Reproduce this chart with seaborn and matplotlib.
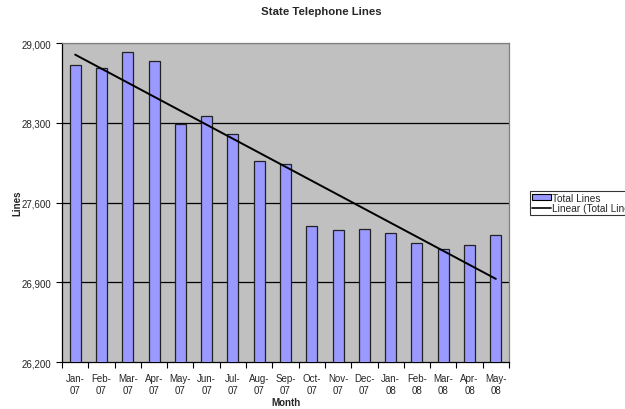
import numpy as np
import pandas as pd
import matplotlib
matplotlib.use("Agg")
import matplotlib.pyplot as plt
import seaborn as sns
from matplotlib.patches import Patch
from matplotlib.lines import Line2D
from matplotlib.ticker import FuncFormatter

months = ["Jan-\n07", "Feb-\n07", "Mar-\n07", "Apr-\n07", "May-\n07", "Jun-\n07",
          "Jul-\n07", "Aug-\n07", "Sep-\n07", "Oct-\n07", "Nov-\n07", "Dec-\n07",
          "Jan-\n08", "Feb-\n08", "Mar-\n08", "Apr-\n08", "May-\n08"]
total_lines = [28810, 28778, 28924, 28839, 28286, 28362, 28201, 27961, 27935,
               27396, 27361, 27364, 27329, 27247, 27194, 27229, 27317]
y_ticks = [26200, 26900, 27600, 28300, 29000]

sns.set_style("white")
plt.rcParams['font.family'] = ['Liberation Sans', 'DejaVu Sans']

df = pd.DataFrame({"Month": months, "Lines": total_lines, "idx": np.arange(len(months))})

fig = plt.figure(figsize=(6.25, 4.1), dpi=100)
ax = fig.add_axes([62/625, 1-363/410, (509-62)/625, (363-44)/410])
ax.set_facecolor("#C0C0C0")

sns.barplot(data=df, x="Month", y="Lines", ax=ax, color="#9999FF", saturation=1,
            width=0.42, edgecolor="#222222", linewidth=0.9, zorder=3)
sns.regplot(data=df, x="idx", y="Lines", ax=ax, scatter=False, ci=None,
            color="black", line_kws={"linewidth": 1.4, "zorder": 4}, truncate=True)

ax.set_ylim(y_ticks[0], y_ticks[-1])
ax.set_xlim(-0.5, len(months) - 0.5)
ax.set_yticks(y_ticks)
ax.yaxis.set_major_formatter(FuncFormatter(lambda v, p: f"{int(v):,}"))
for yv in y_ticks[1:-1]:
    ax.axhline(yv, color="black", linewidth=0.9, zorder=1)
ax.axhline(y_ticks[-1], color="#808080", linewidth=0.9, zorder=1)

ax.set_xticks(np.arange(len(months)))
ax.set_xticklabels(months, fontsize=7)
ax.set_xticks(np.arange(len(months) + 1) - 0.5, minor=True)
ax.tick_params(axis="x", which="major", length=0, pad=8)
ax.tick_params(axis="x", which="minor", length=4, width=0.8, color="black", direction="out", bottom=True)
ax.tick_params(axis="y", which="major", length=4, width=0.8, color="black", direction="out", left=True,
               labelsize=7, pad=4)

for s in ["left", "bottom"]:
    ax.spines[s].set_color("black")
    ax.spines[s].set_linewidth(0.9)
for s in ["top", "right"]:
    ax.spines[s].set_color("#808080")
    ax.spines[s].set_linewidth(0.9)

ax.set_xlabel("Month", fontsize=7, fontweight="bold", labelpad=2)
ax.set_ylabel("Lines", fontsize=7, fontweight="bold")
ax.yaxis.set_label_coords((22 - 62) / 447, 0.5)
fig.text(321/625, 1-12/410, "State Telephone Lines", ha="center", va="center",
         fontsize=8.2, fontweight="bold")

handles = [Patch(facecolor="#9999FF", edgecolor="black", linewidth=0.8),
           Line2D([0], [0], color="black", linewidth=1.2)]
leg = fig.legend(handles, ["Total Lines", "Linear (Total Lines)"], loc="center left",
                 bbox_to_anchor=(530/625, 1-204/410), fontsize=7.3, frameon=True,
                 fancybox=False, edgecolor="black", handlelength=1.9, handleheight=0.45,
                 handletextpad=0.1, borderpad=0.2, labelspacing=0.05, borderaxespad=0)
leg.get_frame().set_linewidth(0.8)

fig.savefig("out.png", dpi=100)
